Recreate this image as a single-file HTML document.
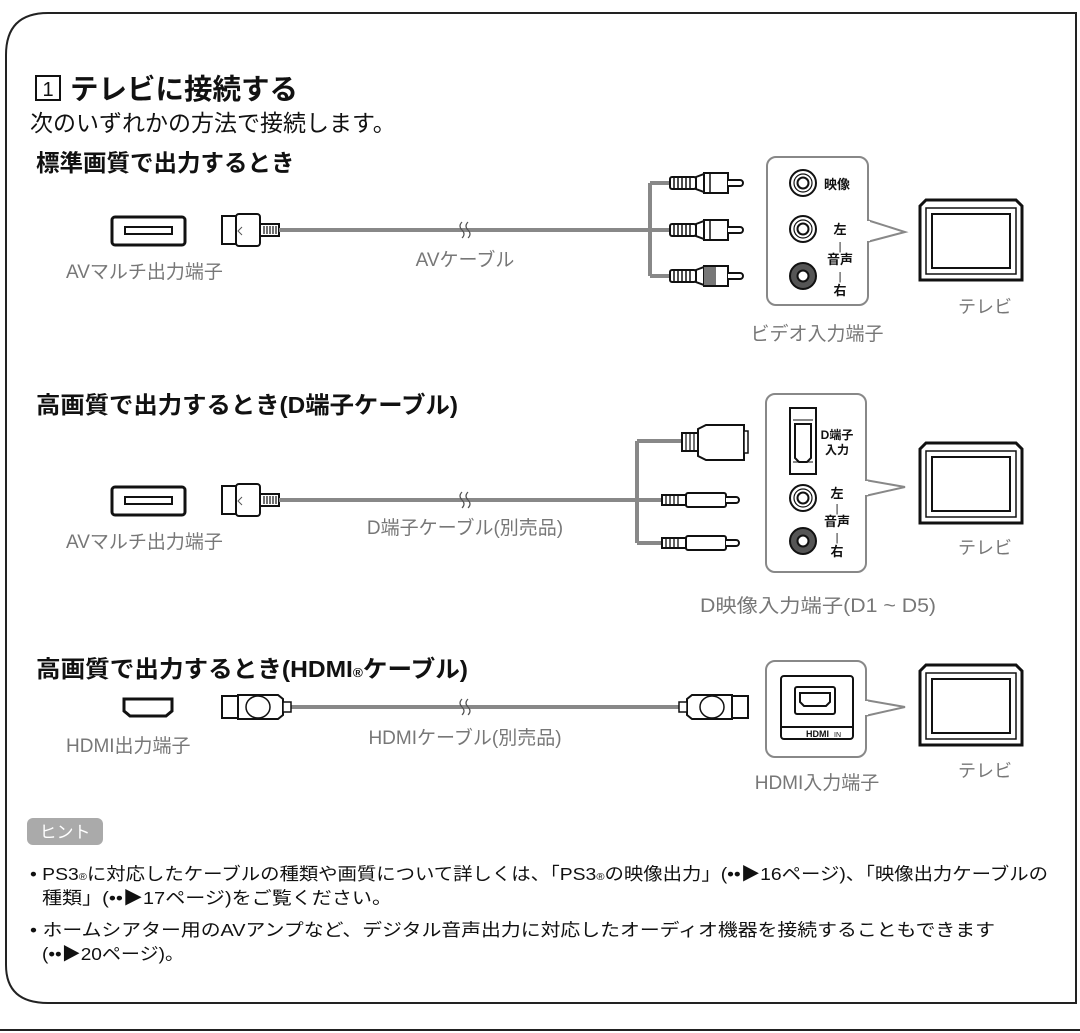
<!DOCTYPE html>
<html><head><meta charset="utf-8"><style>
html,body{margin:0;padding:0;background:#fff}
svg{display:block}
text{font-family:"Liberation Sans","Noto Sans CJK JP",sans-serif}
</style></head><body>
<svg width="1080" height="1033" viewBox="0 0 1080 1033" xmlns="http://www.w3.org/2000/svg">
<defs>
<g id="avport"><rect x="0" y="0" width="73" height="28" rx="3" fill="#fff" stroke="#111" stroke-width="3"/><rect x="13" y="10" width="47" height="7" fill="#fff" stroke="#111" stroke-width="2"/></g>
<g id="avplug"><rect x="0" y="0" width="14" height="28" fill="#fff" stroke="#111" stroke-width="2"/><rect x="14" y="-2" width="24" height="32" rx="3" fill="#fff" stroke="#111" stroke-width="2"/><path d="M20 11 l-4 4 l4 4" fill="none" stroke="#555" stroke-width="1"/><rect x="38" y="8" width="19" height="12" fill="#fff" stroke="#111" stroke-width="2"/><path d="M42 10v8M45 10v8M48 10v8M51 10v8M54 10v8" stroke="#111" stroke-width="1.2"/></g>
<g id="rca"><rect x="0" y="-6" width="26" height="12" rx="2" fill="#fff" stroke="#111" stroke-width="2"/><path d="M4 -6v12M8 -6v12M12 -6v12M16 -6v12M20 -6v12" stroke="#111" stroke-width="1.5"/><path d="M26 -6 l8 -3 v18 l-8 -3z" fill="#fff" stroke="#111" stroke-width="2"/><rect x="34" y="-10" width="24" height="20" fill="#fff" stroke="#111" stroke-width="2"/><line x1="40" y1="-10" x2="40" y2="10" stroke="#111" stroke-width="1.5"/><path d="M58 -3h12a3 3 0 0 1 0 6h-12" fill="#fff" stroke="#111" stroke-width="2"/></g>
<g id="tv"><path d="M0 6 L6 0 H96 L102 6 V80 H0Z" fill="#fff" stroke="#111" stroke-width="3"/><rect x="6" y="8" width="90" height="66" fill="#fff" stroke="#111" stroke-width="1.5"/><rect x="12" y="14" width="78" height="54" fill="#fff" stroke="#111" stroke-width="2"/></g>
</defs>

<!-- outer frame -->
<path d="M6 965 V55 Q6 13 48 13 H1076 V1003 H48 Q6 1003 6 965" fill="none" stroke="#222" stroke-width="2"/>
<line x1="0" y1="1030" x2="1080" y2="1030" stroke="#222" stroke-width="2"/>

<!-- title -->
<rect x="36" y="76" width="24" height="24" fill="#fff" stroke="#111" stroke-width="2"/>
<text x="48" y="96" font-size="20" text-anchor="middle" fill="#111">1</text>
<text x="70" y="99" font-size="28.5" font-weight="bold" fill="#111">テレビに接続する</text>
<text x="30" y="131" font-size="23" fill="#111">次のいずれかの方法で接続します。</text>

<!-- Section 1 -->
<text x="36" y="171" font-size="23.5" font-weight="bold" fill="#111">標準画質で出力するとき</text>
<use href="#avport" x="112" y="217"/>
<use href="#avplug" x="222" y="216"/>
<path d="M279 230 H650 M650 183 V276 M650 183 h20 M650 230 h20 M650 276 h20" fill="none" stroke="#888" stroke-width="4" stroke-linejoin="round"/>
<path d="M462 222 q-4 4 0 8 t0 8 M468 222 q-4 4 0 8 t0 8" fill="none" stroke="#555" stroke-width="1.2"/>
<use href="#rca" x="670" y="183"/><use href="#rca" x="670" y="230"/><use href="#rca" x="670" y="276"/>
<rect x="704" y="267" width="12" height="18" fill="#777"/>
<text x="66" y="278" font-size="19" fill="#777">AVマルチ出力端子</text>
<text x="465" y="266" font-size="19" fill="#777" text-anchor="middle">AVケーブル</text>
<path d="M867 220 L905 232 L867 242" fill="#fff" stroke="#888" stroke-width="2"/>
<rect x="767" y="157" width="101" height="148" rx="9" fill="#fff" stroke="#888" stroke-width="2"/>
<rect x="866" y="221" width="4" height="20" fill="#fff"/>
<circle cx="803" cy="183" r="13" fill="#fff" stroke="#111" stroke-width="2"/><circle cx="803" cy="183" r="9" fill="none" stroke="#111" stroke-width="1.2"/><circle cx="803" cy="183" r="5.5" fill="#fff" stroke="#111" stroke-width="2"/>
<circle cx="803" cy="229" r="13" fill="#fff" stroke="#111" stroke-width="2"/><circle cx="803" cy="229" r="9" fill="none" stroke="#111" stroke-width="1.2"/><circle cx="803" cy="229" r="5.5" fill="#fff" stroke="#111" stroke-width="2"/>
<circle cx="803" cy="276" r="13" fill="#555" stroke="#111" stroke-width="2"/><circle cx="803" cy="276" r="5.5" fill="#fff" stroke="#111" stroke-width="2"/>
<text x="824" y="189" font-size="13" font-weight="bold" fill="#111">映像</text>
<text x="840" y="234" font-size="13" font-weight="bold" fill="#111" text-anchor="middle">左</text>
<text x="840" y="250" font-size="11" fill="#111" text-anchor="middle">|</text>
<text x="840" y="264" font-size="13" font-weight="bold" fill="#111" text-anchor="middle">音声</text>
<text x="840" y="280" font-size="11" fill="#111" text-anchor="middle">|</text>
<text x="840" y="295" font-size="13" font-weight="bold" fill="#111" text-anchor="middle">右</text>
<use href="#tv" x="920" y="200"/>
<text x="985" y="313" font-size="18" fill="#777" text-anchor="middle">テレビ</text>
<text x="817" y="340" font-size="19" fill="#777" text-anchor="middle">ビデオ入力端子</text>

<!-- Section 2 -->
<text x="36" y="413" font-size="23.5" font-weight="bold" fill="#111" textLength="422" lengthAdjust="spacingAndGlyphs">高画質で出力するとき(D端子ケーブル)</text>
<use href="#avport" x="112" y="487"/>
<use href="#avplug" x="222" y="486"/>
<path d="M279 500 H637 M637 441 V543 M637 441 h46 M637 500 h24 M637 543 h24" fill="none" stroke="#888" stroke-width="4" stroke-linejoin="round"/>
<path d="M462 492 q-4 4 0 8 t0 8 M468 492 q-4 4 0 8 t0 8" fill="none" stroke="#555" stroke-width="1.2"/>
<g transform="translate(682,425)"><rect x="0" y="8" width="16" height="18" fill="#fff" stroke="#111" stroke-width="2"/><path d="M4 8v18M8 8v18M12 8v18" stroke="#111" stroke-width="1.2"/><path d="M16 4 L24 0 H62 V35 H24 L16 31Z" fill="#fff" stroke="#111" stroke-width="2"/><rect x="62" y="6" width="4" height="22" fill="#fff" stroke="#111" stroke-width="1.5"/></g>
<g transform="translate(662,500)"><rect x="0" y="-5" width="24" height="10" fill="#fff" stroke="#111" stroke-width="2"/><path d="M4 -5v10M8 -5v10M12 -5v10M16 -5v10" stroke="#111" stroke-width="1.3"/><rect x="24" y="-7" width="40" height="14" rx="2" fill="#fff" stroke="#111" stroke-width="2"/><path d="M64 -3h10a3 3 0 0 1 0 6h-10" fill="#fff" stroke="#111" stroke-width="2"/></g>
<g transform="translate(662,543)"><rect x="0" y="-5" width="24" height="10" fill="#fff" stroke="#111" stroke-width="2"/><path d="M4 -5v10M8 -5v10M12 -5v10M16 -5v10" stroke="#111" stroke-width="1.3"/><rect x="24" y="-7" width="40" height="14" rx="2" fill="#fff" stroke="#111" stroke-width="2"/><path d="M64 -3h10a3 3 0 0 1 0 6h-10" fill="#fff" stroke="#111" stroke-width="2"/></g>
<text x="66" y="548" font-size="19" fill="#777">AVマルチ出力端子</text>
<text x="465" y="534" font-size="19" fill="#777" text-anchor="middle">D端子ケーブル(別売品)</text>
<path d="M865 480 L905 487 L865 496" fill="#fff" stroke="#888" stroke-width="2"/>
<rect x="766" y="394" width="100" height="178" rx="9" fill="#fff" stroke="#888" stroke-width="2"/>
<rect x="864" y="481" width="4" height="14" fill="#fff"/>
<rect x="790" y="408" width="26" height="66" fill="#fff" stroke="#111" stroke-width="2"/>
<path d="M793 420 h20 M793 462 h20" stroke="#111" stroke-width="1"/>
<path d="M795 424 h16 v34 l-4 4 h-8 l-4 -4z" fill="#fff" stroke="#111" stroke-width="2"/>
<text x="837" y="439" font-size="12" font-weight="bold" fill="#111" text-anchor="middle">D端子</text>
<text x="837" y="454" font-size="12" font-weight="bold" fill="#111" text-anchor="middle">入力</text>
<circle cx="803" cy="498" r="13" fill="#fff" stroke="#111" stroke-width="2"/><circle cx="803" cy="498" r="9" fill="none" stroke="#111" stroke-width="1.2"/><circle cx="803" cy="498" r="5.5" fill="#fff" stroke="#111" stroke-width="2"/>
<circle cx="803" cy="541" r="13" fill="#555" stroke="#111" stroke-width="2"/><circle cx="803" cy="541" r="5.5" fill="#fff" stroke="#111" stroke-width="2"/>
<text x="837" y="498" font-size="13" font-weight="bold" fill="#111" text-anchor="middle">左</text>
<text x="837" y="512" font-size="11" fill="#111" text-anchor="middle">|</text>
<text x="837" y="526" font-size="13" font-weight="bold" fill="#111" text-anchor="middle">音声</text>
<text x="837" y="541" font-size="11" fill="#111" text-anchor="middle">|</text>
<text x="837" y="556" font-size="13" font-weight="bold" fill="#111" text-anchor="middle">右</text>
<use href="#tv" x="920" y="443"/>
<text x="985" y="554" font-size="18" fill="#777" text-anchor="middle">テレビ</text>
<text x="818" y="612" font-size="19" fill="#777" text-anchor="middle" textLength="236" lengthAdjust="spacingAndGlyphs">D映像入力端子(D1 ~ D5)</text>

<!-- Section 3 -->
<text x="36" y="677" font-size="23.5" font-weight="bold" fill="#111" textLength="432" lengthAdjust="spacingAndGlyphs">高画質で出力するとき(HDMI<tspan font-size="13">®</tspan>ケーブル)</text>
<path d="M124 699 H172 V711 L166 716 H130 L124 711Z" fill="#fff" stroke="#111" stroke-width="3"/>
<path d="M290 707 H684" stroke="#888" stroke-width="4"/>
<path d="M462 699 q-4 4 0 8 t0 8 M468 699 q-4 4 0 8 t0 8" fill="none" stroke="#555" stroke-width="1.2"/>
<g transform="translate(222,707)"><rect x="0" y="-11" width="16" height="22" fill="#fff" stroke="#111" stroke-width="2"/><path d="M16 -12 h40 l5 4 v16 l-5 4 h-40z" fill="#fff" stroke="#111" stroke-width="2"/><ellipse cx="36" cy="0" rx="12" ry="11" fill="#fff" stroke="#111" stroke-width="1.5"/><rect x="61" y="-5" width="8" height="10" fill="#fff" stroke="#111" stroke-width="1.5"/></g>
<g transform="translate(748,707) scale(-1,1)"><rect x="0" y="-11" width="16" height="22" fill="#fff" stroke="#111" stroke-width="2"/><path d="M16 -12 h40 l5 4 v16 l-5 4 h-40z" fill="#fff" stroke="#111" stroke-width="2"/><ellipse cx="36" cy="0" rx="12" ry="11" fill="#fff" stroke="#111" stroke-width="1.5"/><rect x="61" y="-5" width="8" height="10" fill="#fff" stroke="#111" stroke-width="1.5"/></g>
<text x="66" y="752" font-size="19" fill="#777">HDMI出力端子</text>
<text x="465" y="744" font-size="19" fill="#777" text-anchor="middle">HDMIケーブル(別売品)</text>
<path d="M865 700 L905 707 L865 716" fill="#fff" stroke="#888" stroke-width="2"/>
<rect x="766" y="661" width="100" height="96" rx="9" fill="#fff" stroke="#888" stroke-width="2"/>
<rect x="864" y="701" width="4" height="14" fill="#fff"/>
<rect x="781" y="676" width="72" height="63" rx="3" fill="#fff" stroke="#111" stroke-width="2"/>
<line x1="781" y1="727" x2="853" y2="727" stroke="#111" stroke-width="2"/>
<rect x="795" y="687" width="40" height="27" rx="2" fill="#fff" stroke="#111" stroke-width="2"/>
<path d="M800 693 H830 V702 L826 706 H804 L800 702Z" fill="#fff" stroke="#111" stroke-width="2"/>
<text x="806" y="737" font-size="9" font-weight="bold" fill="#111">HDMI</text><text x="834" y="737" font-size="7" fill="#111">IN</text>
<use href="#tv" x="920" y="665"/>
<text x="985" y="777" font-size="18" fill="#777" text-anchor="middle">テレビ</text>
<text x="817" y="789" font-size="19" fill="#777" text-anchor="middle">HDMI入力端子</text>

<!-- hint -->
<rect x="27" y="818" width="76" height="27" rx="6" fill="#aaa"/>
<text x="65" y="838" font-size="17" fill="#fff" text-anchor="middle">ヒント</text>
<g font-size="17.5" fill="#111">
<text x="30" y="880" textLength="1018" lengthAdjust="spacingAndGlyphs">• PS3<tspan font-size="10">®</tspan>に対応したケーブルの種類や画質について詳しくは、「PS3<tspan font-size="10">®</tspan>の映像出力」(••▶16ページ)、「映像出力ケーブルの</text>
<text x="42" y="904" textLength="350" lengthAdjust="spacingAndGlyphs">種類」(••▶17ページ)をご覧ください。</text>
<text x="30" y="936" textLength="965" lengthAdjust="spacingAndGlyphs">• ホームシアター用のAVアンプなど、デジタル音声出力に対応したオーディオ機器を接続することもできます</text>
<text x="42" y="960" textLength="142" lengthAdjust="spacingAndGlyphs">(••▶20ページ)。</text>
</g>
</svg>
</body></html>
